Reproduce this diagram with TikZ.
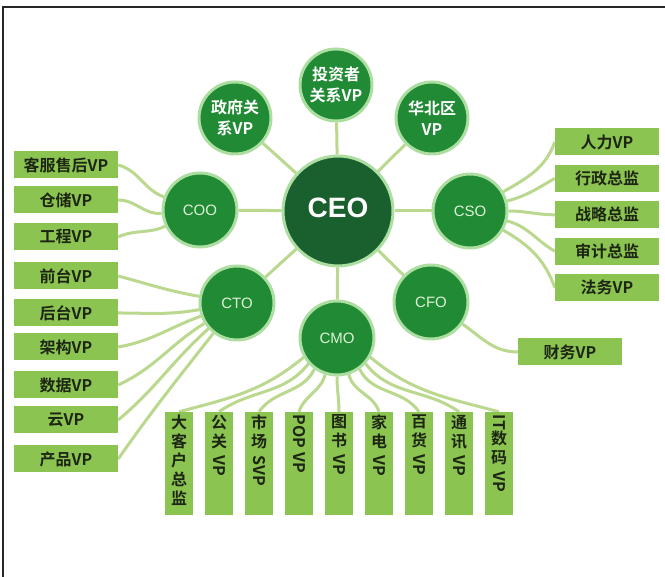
\documentclass[tikz,border=0pt]{standalone}
\usepackage{fontspec}
\setmainfont{Noto Sans CJK SC}[BoldFont=* Bold]
\newfontfamily\latin{Liberation Sans}
\usetikzlibrary{positioning}
\pgfdeclarelayer{bg}
\pgfsetlayers{bg,main}
\definecolor{ceogreen}{RGB}{26,96,46}
\definecolor{cgreen}{RGB}{32,138,52}
\definecolor{ring}{RGB}{172,222,162}
\definecolor{boxgreen}{RGB}{140,196,82}
\definecolor{linkgreen}{RGB}{186,216,142}
\definecolor{boxtext}{RGB}{28,38,18}
\definecolor{ctext}{RGB}{222,242,215}
\newcommand\vrot[1]{\raisebox{11pt}{\rotatebox{-90}{#1}}}
\begin{document}
\begin{tikzpicture}[x=1pt,y=1pt]
    \tikzset{
    exec/.style={circle,draw=ring,line width=3pt,fill=cgreen,minimum size=74pt,inner sep=0pt,text=ctext,font=\latin\fontsize{15}{15}\selectfont},
    vp/.style={circle,draw=ring,line width=3pt,fill=cgreen,minimum size=72pt,inner sep=0pt,text=white,align=center,font=\bfseries\fontsize{16}{21}\selectfont},
    ceo/.style={circle,draw=ring,line width=3pt,fill=ceogreen,minimum size=110pt,inner sep=0pt,text=white,font=\latin\bfseries\fontsize{28}{28}\selectfont},
    hbox/.style={rectangle,fill=boxgreen,minimum width=104pt,minimum height=27pt,inner sep=0pt,text=boxtext,font=\bfseries\fontsize{16}{16}\selectfont},
    vbox/.style={rectangle,fill=boxgreen,minimum width=28pt,minimum height=103pt,inner sep=0pt,text=boxtext,font=\bfseries\fontsize{16}{19}\selectfont},
    link/.style={draw=linkgreen,line width=3pt}
    }
    \useasboundingbox (0,0) rectangle (665,577);
    \draw[line width=1.5pt,black!85] (3,0) -- (3,570) -- (665,570);
    \node[ceo] (ceo) at (338,366) {\raisebox{6pt}{CEO}};
    \node[vp] (inv) at (336,492) {投资者\\关系VP};
    \node[vp] (gov) at (235,459) {政府关\\系VP};
    \node[vp] (nc) at (432,459) {华北区\\VP};
    \node[exec] (coo) at (200,367) {COO};
    \node[exec] (cso) at (470,366) {CSO};
    \node[exec] (cto) at (237,274) {CTO};
    \node[exec] (cfo) at (431,275) {CFO};
    \node[exec] (cmo) at (337,239) {CMO};
    \foreach \t/\y [count=\i] in {客服售后VP/412,仓储VP/377,工程VP/340,前台VP/301,后台VP/264,架构VP/230,数据VP/192,云VP/157,产品VP/118}
        \node[hbox] (l\i) at (66,\y) {\t};
    \node[hbox] (r1) at (607,435) {人力VP};
    \node[hbox,below=9pt of r1] (r2) {行政总监};
    \node[hbox,below=9pt of r2] (r3) {战略总监};
    \node[hbox,below=9pt of r3] (r4) {审计总监};
    \node[hbox,below=9pt of r4] (r5) {法务VP};
    \node[hbox] (fin) at (570,225) {财务VP};
    \foreach \t [count=\i] in {{大\\客\\户\\总\\监},{公\\关\\\vrot{VP}},{市\\场\\\vrot{SVP}},{\vrot{POP VP}},{图\\书\\\vrot{VP}},{家\\电\\\vrot{VP}},{百\\货\\\vrot{VP}},{通\\讯\\\vrot{VP}},{\vrot{IT}\\数\\码\\\vrot{VP}}}
        \node[vbox] (m\i) at ({139+40*\i},113.5) {\parbox[c][97pt][t]{26pt}{\centering\t}};
    \begin{pgfonlayer}{bg}
    \foreach \n in {inv,gov,nc,coo,cso,cto,cfo,cmo}
        \draw[link] (ceo) -- (\n);
    \draw[link] (l1.east) to[out=-15,in=160] (coo);
    \draw[link] (l2.east) to[out=0,in=185] (coo);
    \draw[link] (l3.east) to[out=25,in=205] (coo);
    \foreach \i/\o/\n in {4/-15/170,5/0/190,6/10/200,7/25/212,8/40/222,9/55/232}
        \draw[link] (l\i.east) to[out=\o,in=\n] (cto);
    \foreach \i/\o/\n in {1/30/250,2/15/210,3/0/180,4/-15/150,5/-30/110}
        \draw[link] (cso) to[out=\o,in=\n] (r\i.west);
    \draw[link] (cfo) to[out=-35,in=180] (fin.west);
    \foreach \i/\a/\o/\n in {1/210/220/15,2/222/232/35,3/234/244/55,4/252/256/72,5/270/270/90,6/288/284/108,7/306/296/125,8/318/308/145,9/330/320/165}
        \draw[link] (cmo.\a) to[out=\o,in=\n] (m\i.north);
    \end{pgfonlayer}
\end{tikzpicture}
\end{document}
